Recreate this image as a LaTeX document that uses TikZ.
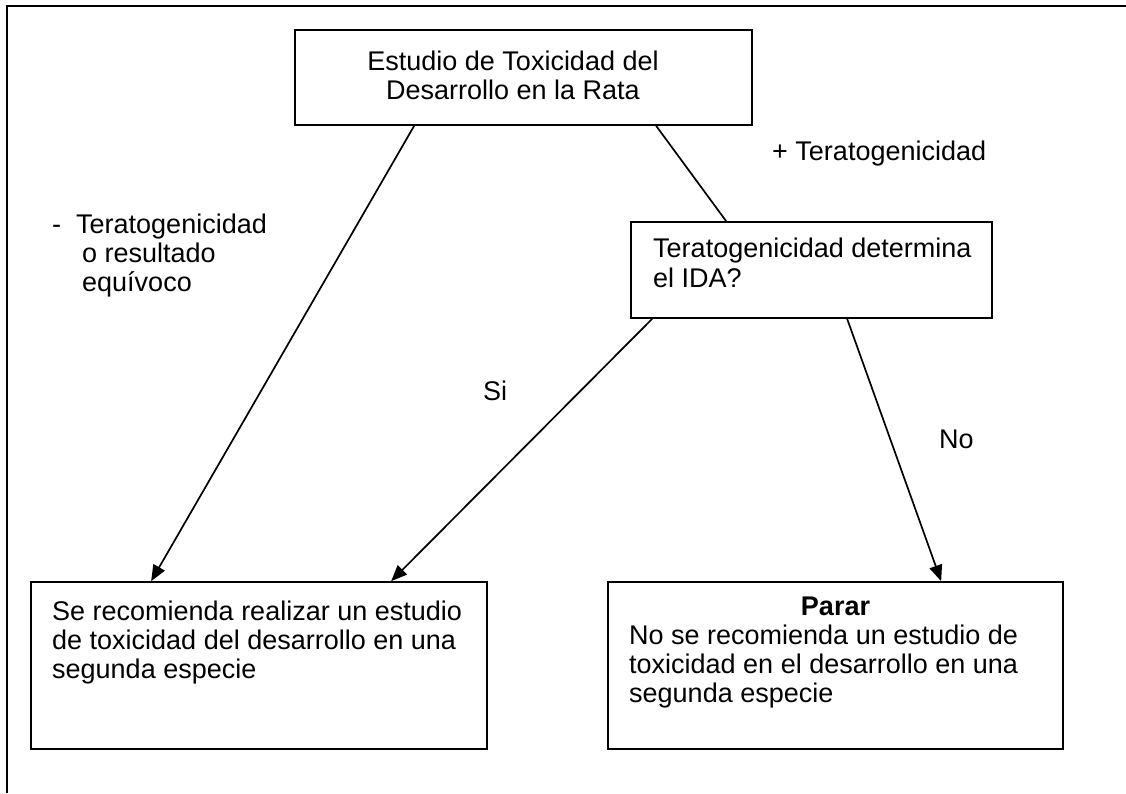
\documentclass[tikz,border=0pt]{standalone}
\usepackage{fontspec}
\setmainfont{Liberation Sans}
\usetikzlibrary{arrows.meta,calc}
\tikzset{
  box/.style={draw, line width=1.7pt, rectangle, inner sep=0pt},
  conn/.style={line width=1.7pt},
  arr/.style={line width=1.7pt, -{Triangle[length=16pt,width=13pt]}},
  txt/.style={inner sep=0pt, anchor=base west, font=\fontsize{27}{29}\selectfont},
  ctxt/.style={inner sep=0pt, anchor=base, font=\fontsize{27}{29}\selectfont}
}
\begin{document}
\begin{tikzpicture}[x=1pt,y=-1pt]
\useasboundingbox (0,0) rectangle (1126,793);
\draw[line width=2pt] (1126,6) -- (7,6) -- (7,793);
% boxes
\node[box, minimum width=457pt, minimum height=95pt] (top) at (523.5,77.5) {};
\node[box, minimum width=361pt, minimum height=96pt] (mid) at (811.5,270) {};
\node[box, minimum width=456pt, minimum height=167pt] (bl) at (259,665.5) {};
\node[box, minimum width=455pt, minimum height=167pt] (br) at (835.5,665.5) {};
% texts
\node[ctxt] (t1) at (513,70) {Estudio de Toxicidad del};
\node[ctxt] (t2) at (513,99) {Desarrollo en la Rata};
\node[txt] (m1) at (653,257) {Teratogenicidad determina};
\node[txt] (m2) at (653,287) {el IDA?};
\node[txt] (l1) at (52,620) {Se recomienda realizar un estudio};
\node[txt] (l2) at (52,649) {de toxicidad del desarrollo en una};
\node[txt] (l3) at (52,678) {segunda especie};
\node[ctxt, font=\fontsize{27}{29}\selectfont\bfseries] (r0) at (835.5,615) {Parar};
\node[txt] (r1) at (629,644) {No se recomienda un estudio de};
\node[txt] (r2) at (629,673) {toxicidad en el desarrollo en una};
\node[txt] (r3) at (629,702) {segunda especie};
% labels
\node[txt] (plus) at (772,160) {+ Teratogenicidad};
\node[txt] (minus1) at (52,233) {-\ \ Teratogenicidad};
\node[txt] (minus2) at (82,262) {o resultado};
\node[txt] (minus3) at (82,291) {equívoco};
\node[txt] (si) at (483,400) {Si};
\node[txt] (no) at (939,448) {No};
% connectors
\draw[arr] ($(top.south west)+(120,0)$) -- ($(bl.north west)+(121,0)$);
\draw[conn] ($(top.south west)+(362,0)$) -- ($(mid.north west)+(96,0)$);
\draw[arr] ($(mid.south west)+(22,0)$) -- ($(bl.north west)+(361,0)$);
\draw[arr] ($(mid.south west)+(217,0)$) -- ($(br.north west)+(334,0)$);
\end{tikzpicture}
\end{document}
